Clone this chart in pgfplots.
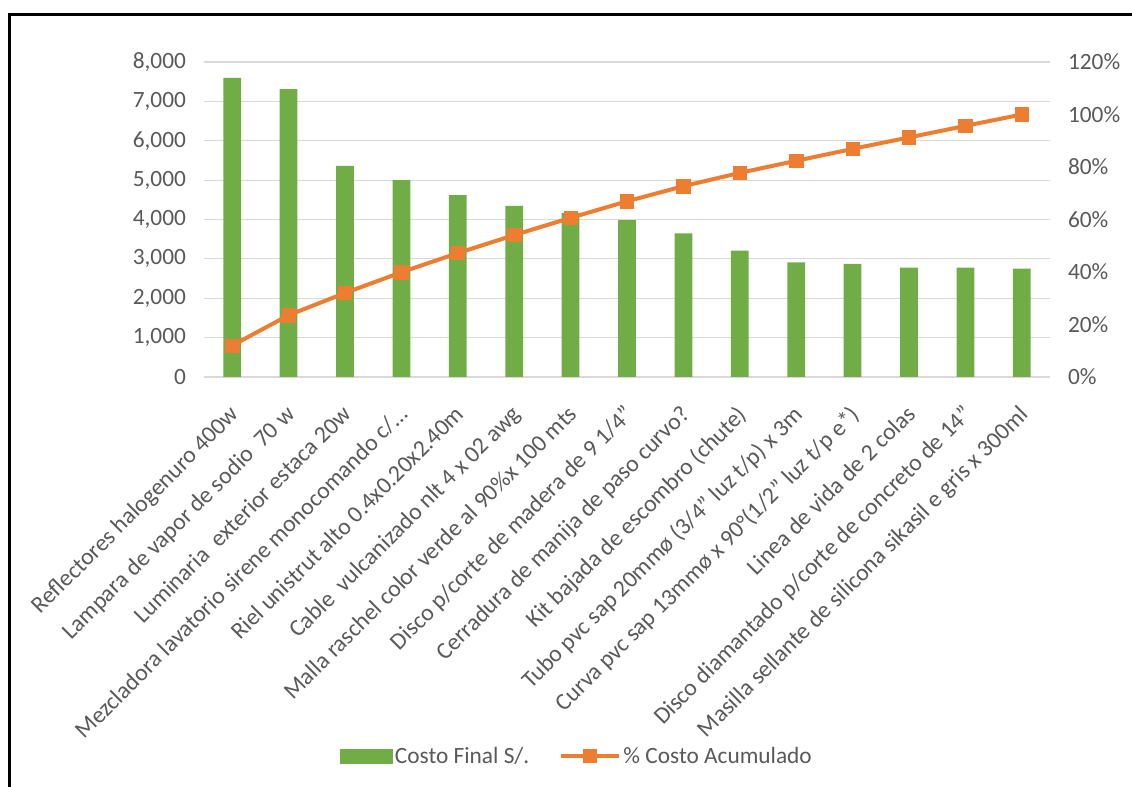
\documentclass[border=0pt]{standalone}
\usepackage{fontspec}
\setmainfont{Carlito}
\usepackage{pgfplots}
\pgfplotsset{compat=1.18}
\definecolor{barg}{HTML}{70AD47}
\definecolor{lineo}{HTML}{ED7D31}
\definecolor{txt}{HTML}{595959}
\definecolor{gridc}{HTML}{D9D9D9}
\pgfplotsset{linelegend/.style={legend image code/.code={\draw[mark repeat=2,mark phase=2,##1] plot coordinates {(0pt,0pt)(21.75pt,0pt)(43.5pt,0pt)};}}}
\newcommand{\q}{\symbol{34}}
\begin{document}
\begin{tikzpicture}
\useasboundingbox (0,0) rectangle (849pt,590.25pt);
\draw[black, line width=2.6pt] (7pt,-10pt) -- (7pt,579.4pt) -- (870pt,579.4pt);
\pgfplotsset{
  base/.style={
    scale only axis, width=634.5pt, height=236.25pt,
    at={(153pt,307.5pt)}, anchor=south west,
    xmin=-0.5, xmax=14.5,
    axis line style={draw=none},
    major tick length=0pt,
    tick label style={font=\fontsize{17.5}{20}\selectfont, text=txt},
    /pgf/number format/assume math mode=true,
  }
}
\begin{axis}[base,
  ymin=0, ymax=8000, ytick={0,1000,...,8000},
  ymajorgrids, grid style={gridc, line width=0.9pt},
  yticklabel style={/pgf/number format/.cd, 1000 sep={,}},
  yticklabel shift=10pt,
  xtick={0,...,14},
  xticklabels={
    Reflectores halogenuro 400w,
    Lampara de vapor de sodio~~70 w,
    Luminaria~~exterior estaca 20w,
    Mezcladora lavatorio sirene monocomando c/…,
    Riel unistrut alto 0.4x0.20x2.40m,
    Cable~~vulcanizado nlt 4 x 02 awg,
    Malla raschel color verde al 90\%x 100 mts,
    Disco p/corte de madera de 9 1/4\q,
    Cerradura de manija de paso curvo?,
    Kit bajada de escombro (chute),
    Tubo pvc sap 20mmø (3/4\q{} luz t/p) x 3m,
    Curva pvc sap 13mmø x 90°(1/2\q{} luz t/p e*),
    Linea de vida de 2 colas,
    Disco diamantado p/corte de concreto de 14\q,
    Masilla sellante de silicona sikasil e gris x 300ml},
  xticklabel style={xshift=-3pt, yshift=-20pt, rotate=45, anchor=north east, inner sep=0pt,
    font=\fontsize{17.8}{20}\selectfont},
  ybar, bar width=13.3pt,
]
\addplot[fill=barg, draw=none] coordinates {
(0,7594) (1,7314) (2,5359) (3,5003) (4,4622) (5,4343) (6,4165) (7,3987)
(8,3650) (9,3208) (10,2913) (11,2870) (12,2777) (13,2777) (14,2751)};
\end{axis}
\begin{axis}[base,
  ymin=0, ymax=120, ytick={0,20,...,120},
  axis y line*=right, axis x line=none,
  yticklabel={\pgfmathprintnumber{\tick}\%},
  yticklabel style={anchor=west},
  yticklabel shift=10pt,
  legend style={at={(0.441,-1.203)}, anchor=center, draw=none, fill=none,
    font=\fontsize{17.5}{20}\selectfont, text=txt,
    legend columns=-1,
    /tikz/every even column/.append style={column sep=20pt},
    legend cell align=left},
]
\addlegendimage{legend image code/.code={\fill[barg] (0pt,-5.25pt) rectangle (39pt,5.25pt);}}
\addlegendentry{Costo Final S/.}
\addplot[lineo, line width=3pt, mark=square*, mark size=5pt,
  mark options={fill=lineo, line width=0.5pt}, linelegend
] coordinates {
(0,11.99) (1,23.54) (2,32.00) (3,39.90) (4,47.20) (5,54.06) (6,60.63) (7,66.93)
(8,72.69) (9,77.76) (10,82.36) (11,86.89) (12,91.27) (13,95.66) (14,100)};
\addlegendentry{\% Costo Acumulado}
\end{axis}
\end{tikzpicture}
\end{document}
